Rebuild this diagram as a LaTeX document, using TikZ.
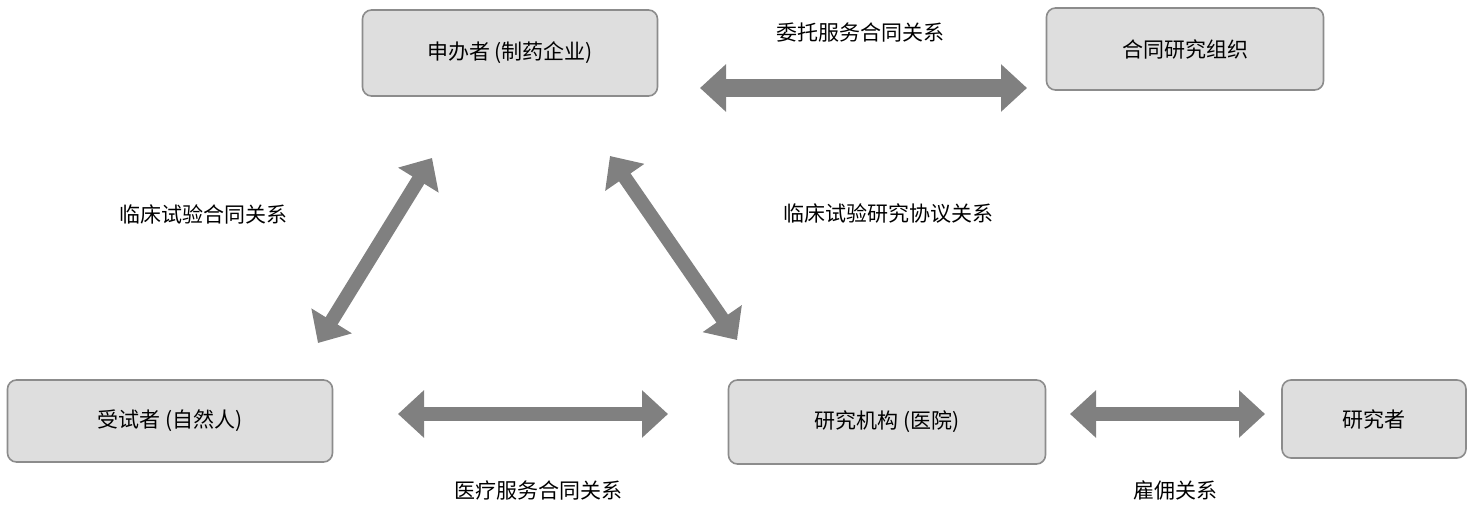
\documentclass[tikz,border=0pt]{standalone}
\usepackage{fontspec}
\setmainfont{Noto Sans CJK SC}
\usetikzlibrary{arrows.meta}
\begin{document}
\begin{tikzpicture}[x=1pt,y=-1pt,
 box/.style={draw=black!45,line width=1.6pt,fill=black!13,rounded corners=9pt,font=\fontsize{21}{24}\selectfont,inner sep=0},
 lab/.style={font=\fontsize{21}{24}\selectfont},
 big/.style={draw=black!50,line width=#1,{Triangle[length=26pt,width=46pt]}-{Triangle[length=26pt,width=46pt]}},
 big/.default=14pt]
\useasboundingbox (0,0) rectangle (1476,508);
\node[box,minimum width=295pt,minimum height=86pt] (sp) at (510,53) {申办者 (制药企业)};
\node[box,minimum width=277pt,minimum height=82pt] (cro) at (1185,49) {合同研究组织};
\node[box,minimum width=325pt,minimum height=82pt] (sub) at (170,421) {受试者 (自然人)};
\node[box,minimum width=317pt,minimum height=84pt] (ins) at (887,422) {研究机构 (医院)};
\node[box,minimum width=184pt,minimum height=78pt] (res) at (1374,419) {研究者};
\coordinate (a1) at (700,88); \coordinate (a2) at (1027,88);
\coordinate (b1) at (318,343); \coordinate (b2) at (432,158);
\coordinate (c1) at (610,156); \coordinate (c2) at (737,340);
\coordinate (d1) at (398,414); \coordinate (d2) at (668,414);
\coordinate (e1) at (1070,414); \coordinate (e2) at (1265,414);
\draw[big=18pt] (a1) -- (a2);
\draw[big] (b1) -- (b2);
\draw[big] (c1) -- (c2);
\draw[big] (d1) -- (d2);
\draw[big] (e1) -- (e2);
\node[lab] (l1) at (860,33) {委托服务合同关系};
\node[lab] (l2) at (203,214) {临床试验合同关系};
\node[lab] (l3) at (888,214) {临床试验研究协议关系};
\node[lab] (l4) at (538,490) {医疗服务合同关系};
\node[lab] (l5) at (1175,490) {雇佣关系};
\end{tikzpicture}
\end{document}
